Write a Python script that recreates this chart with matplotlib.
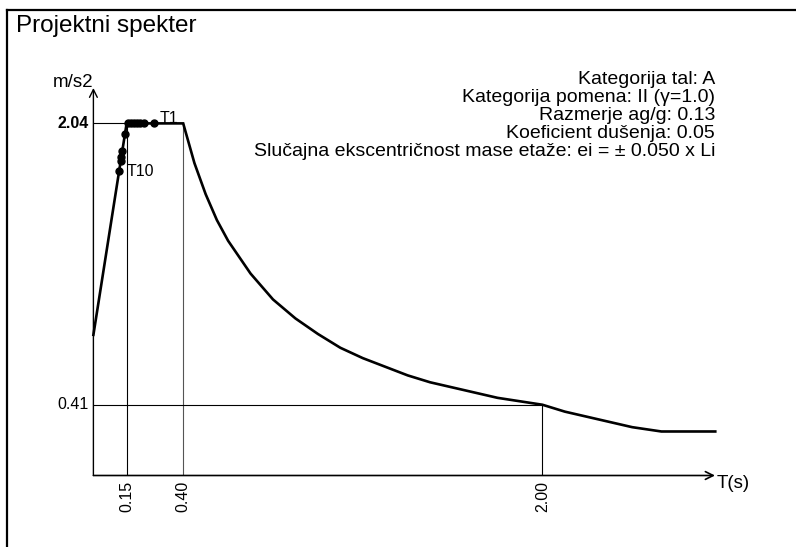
import matplotlib
matplotlib.use("Agg")
import matplotlib.pyplot as plt
from matplotlib.lines import Line2D

plt.rcParams['font.family'] = ['Liberation Sans', 'DejaVu Sans']

# ---- data ----
T_curve = [0.0, 0.148, 0.40, 0.45, 0.50, 0.55, 0.60, 0.70, 0.80, 0.90, 1.00,
           1.10, 1.20, 1.30, 1.40, 1.50, 1.60, 1.70, 1.80, 1.90, 2.00,
           2.10, 2.20, 2.30, 2.40, 2.53, 2.77]
Sd_curve = [0.815, 2.04, 2.04, 1.81, 1.63, 1.48, 1.36, 1.17, 1.02, 0.91, 0.82,
            0.74, 0.68, 0.63, 0.58, 0.54, 0.51, 0.48, 0.45, 0.43, 0.41,
            0.37, 0.34, 0.31, 0.28, 0.255, 0.255]
T_modes = [0.271, 0.225, 0.208, 0.194, 0.181, 0.167, 0.154,
           0.1406, 0.1289, 0.1242, 0.1219, 0.1149]
Sd_modes = [2.04, 2.04, 2.04, 2.04, 2.04, 2.04, 2.04,
            1.979, 1.882, 1.843, 1.824, 1.766]
x_ticks = [0.15, 0.40, 2.00]
x_tick_labels = ["0.15", "0.40", "2.00"]
y_ticks = [2.04, 0.41]
y_tick_labels = ["2.04", "0.41"]
info_lines = ["Kategorija tal: A",
              "Kategorija pomena: II (\u03b3=1.0)",
              "Razmerje ag/g: 0.13",
              "Koeficient du\u0161enja: 0.05",
              "Slu\u010dajna ekscentri\u010dnost mase eta\u017ee: ei = \u00b1 0.050 x Li"]
title = "Projektni spekter"

# ---- layout ----
W, H = 796, 547
fig = plt.figure(figsize=(W / 100, H / 100), dpi=100)
x0, x1 = 93.4, 715.0      # pixel of T=0 and axis end
y0, ytop = 475.5, 88.0    # pixel of Sd=0 and arrow tip
xscale = 224.5
yscale = 172.6
xmax = (x1 - x0) / xscale
ymax = (y0 - ytop) / yscale
ax = fig.add_axes([x0 / W, 1 - y0 / H, (x1 - x0) / W, (y0 - ytop) / H])
ax.set_xlim(0, xmax)
ax.set_ylim(0, ymax)
ax.axis('off')

def fx(x, y):
    return (x / W, 1 - y / H)

# frame (top and left)
fig.add_artist(Line2D([7 / W, 1.0], [1 - 10 / H, 1 - 10 / H], color='black', lw=1.6,
                      transform=fig.transFigure))
fig.add_artist(Line2D([7 / W, 7 / W], [1 - 10 / H, 0.0], color='black', lw=1.6,
                      transform=fig.transFigure))

# axes with arrows
ax.annotate("", xy=(xmax, 0), xytext=(0, 0),
            arrowprops=dict(arrowstyle='->', lw=1.2, color='black', shrinkA=0, shrinkB=0,
                            mutation_scale=14), annotation_clip=False)
ax.annotate("", xy=(0, ymax), xytext=(0, 0),
            arrowprops=dict(arrowstyle='->', lw=1.0, color='black', shrinkA=0, shrinkB=0,
                            mutation_scale=14), annotation_clip=False)

# reference lines
plat = Sd_curve[1]
ax.plot([0, T_curve[1]], [plat, plat], color='black', lw=0.8)
ax.plot([x_ticks[0], x_ticks[0]], [0, plat], color='black', lw=0.8)
ax.plot([x_ticks[1], x_ticks[1]], [0, plat], color='#555555', lw=0.8)
ax.plot([0, x_ticks[2]], [y_ticks[1], y_ticks[1]], color='black', lw=0.8)
ax.plot([x_ticks[2], x_ticks[2]], [0, y_ticks[1]], color='black', lw=0.8)

# spectrum
ax.plot(T_curve, Sd_curve, color='black', lw=1.9, clip_on=False, solid_joinstyle='miter')
ax.plot(T_modes, Sd_modes, 'o', color='black', ms=5, clip_on=False)
ax.text(T_modes[0] + 0.022, Sd_modes[0], "T1", fontsize=11.5, ha='left', va='baseline')
ax.text(T_modes[-1] + 0.033, Sd_modes[-1] - 0.03, "T10", fontsize=11.5, ha='left', va='baseline')

# tick labels
for v, lab in zip(y_ticks, y_tick_labels):
    ax.text(-0.02, v, lab, fontsize=11.5, ha='right', va='center',
            fontweight='bold' if lab == "2.04" else 'normal')
for v, lab in zip(x_ticks, x_tick_labels):
    ax.text(v, -0.03, lab, fontsize=11.5, ha='center', va='top', rotation=90)

fig.text(*fx(93, 87), "m/s2", fontsize=13.5, ha='right', va='baseline')
fig.text(*fx(717, 488), "T(s)", fontsize=13.5, ha='left', va='baseline')
fig.text(*fx(16.5, 31.7), title, fontsize=17.5, ha='left', va='baseline')

for i, line in enumerate(info_lines):
    fig.text(*fx(715, 84.3 + 17.9 * i), line, fontsize=14, ha='right', va='baseline')

fig.savefig("out.png", dpi=100)
